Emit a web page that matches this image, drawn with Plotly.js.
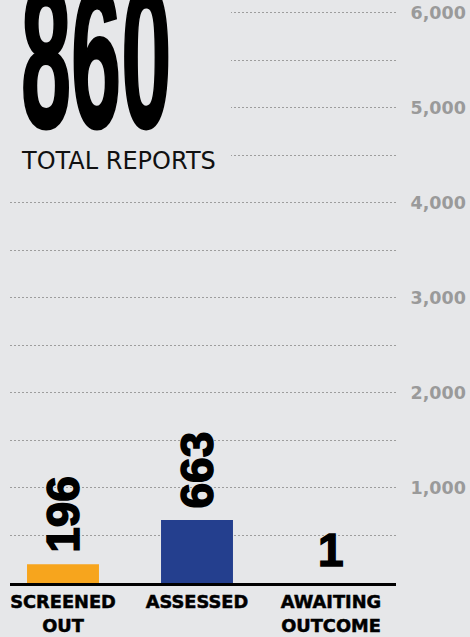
<!DOCTYPE html>
<html>
<head>
<meta charset="utf-8">
<script src="https://cdn.plot.ly/plotly-3.0.1.min.js"></script>
<style>
  html, body { margin: 0; padding: 0; background: #e6e7e9; }
  #chart { width: 470px; height: 637px; }
  .xtick text { stroke: #000; stroke-width: 0.5px; }
</style>
</head>
<body>
<div id="chart"></div>
<script>
// ---- data ----
const categories = ['SCREENED<br>OUT', 'ASSESSED', 'AWAITING<br>OUTCOME'];
const values = [196, 663, 1];
const totalReports = 860;
const totalLabel = 'TOTAL REPORTS';
const yTickVals = [500, 1000, 1500, 2000, 2500, 3000, 3500, 4000, 4500, 5000, 5500, 6000];
const yTickText = ['', '1,000', '', '2,000', '', '3,000', '', '4,000', '', '5,000', '', '6,000'];

// ---- styles ----
const barColors = ['#f7a51d', '#243f8e', '#243f8e'];
const labelAngles = [-90, -90, 0];
const labelShifts = [9, 9, 5];
const BG = '#e6e7e9';

const trace = {
  type: 'bar',
  x: categories,
  y: values,
  width: 0.537,
  marker: { color: barColors, line: { width: 0 } },
  hoverinfo: 'none'
};

const valueAnnotations = values.map((v, i) => ({
  xref: 'x', yref: 'y',
  x: categories[i], y: v,
  text: String(v),
  showarrow: false,
  xanchor: 'center', yanchor: 'bottom',
  textangle: labelAngles[i],
  yshift: labelShifts[i],
  font: { family: 'Liberation Sans, Arial, sans-serif', size: 46, color: '#000', weight: 'bold' }
}));

const layout = {
  width: 470, height: 637,
  margin: { l: 10, r: 74, t: 0, b: 54, pad: 0 },
  paper_bgcolor: BG, plot_bgcolor: BG,
  showlegend: false,
  xaxis: {
    type: 'category',
    range: [-0.3955, 2.485],
    showline: true, linecolor: '#000', linewidth: 3,
    showgrid: false, zeroline: false,
    ticks: 'outside', ticklen: 1, tickcolor: 'rgba(0,0,0,0)',
    tickfont: { family: 'DejaVu Sans, sans-serif', size: 17.8, color: '#000', weight: 'bold' },
    fixedrange: true
  },
  yaxis: {
    side: 'right',
    range: [0, 6134],
    tickmode: 'array', tickvals: yTickVals, ticktext: yTickText,
    showgrid: true, gridcolor: '#9d9d9d', gridwidth: 1, griddash: '2px,2px',
    zeroline: false, showline: false,
    ticks: 'outside', ticklen: 10, tickcolor: 'rgba(0,0,0,0)',
    tickfont: { family: 'DejaVu Sans, sans-serif', size: 17.5, color: '#9a9a9a', weight: 'bold' },
    fixedrange: true
  },
  shapes: [{
    type: 'rect', xref: 'paper', yref: 'paper',
    x0: -0.03, x1: 0.5725, y0: 0.693, y1: 1.02,
    fillcolor: BG, line: { width: 0 }, layer: 'above'
  }],
  annotations: [
    {
      xref: 'paper', yref: 'paper', x: 0.0232, y: 0.7055,
      xanchor: 'left', yanchor: 'bottom',
      text: String(totalReports), showarrow: false,
      font: { family: 'Liberation Sans, Arial, sans-serif', size: 202, color: '#000', weight: 'bold' }
    },
    {
      xref: 'paper', yref: 'paper', x: 0.0233, y: 0.6962,
      xanchor: 'left', yanchor: 'bottom',
      text: totalLabel, showarrow: false,
      font: { family: 'DejaVu Sans, sans-serif', size: 24, color: '#111' }
    }
  ].concat(valueAnnotations)
};

Plotly.newPlot('chart', [trace], layout, { staticPlot: true, displayModeBar: false }).then(gd => {
  const sx = 0.446;
  const valueTexts = values.map(String);
  gd.querySelectorAll('g.annotation').forEach(g => {
    const t = g.querySelector('text.annotation-text');
    if (!t) return;
    if (t.textContent === String(totalReports)) {
      const b = t.getBBox();
      t.setAttribute('transform', 'translate(' + b.x + ' 0) scale(' + sx + ' 1) translate(' + (-b.x) + ' 0)');
      t.setAttribute('stroke', '#000');
      t.setAttribute('stroke-width', '3');
    } else if (valueTexts.indexOf(t.textContent) !== -1) {
      t.setAttribute('stroke', '#000');
      t.setAttribute('stroke-width', '1.5');
    }
  });
});
</script>
</body>
</html>
